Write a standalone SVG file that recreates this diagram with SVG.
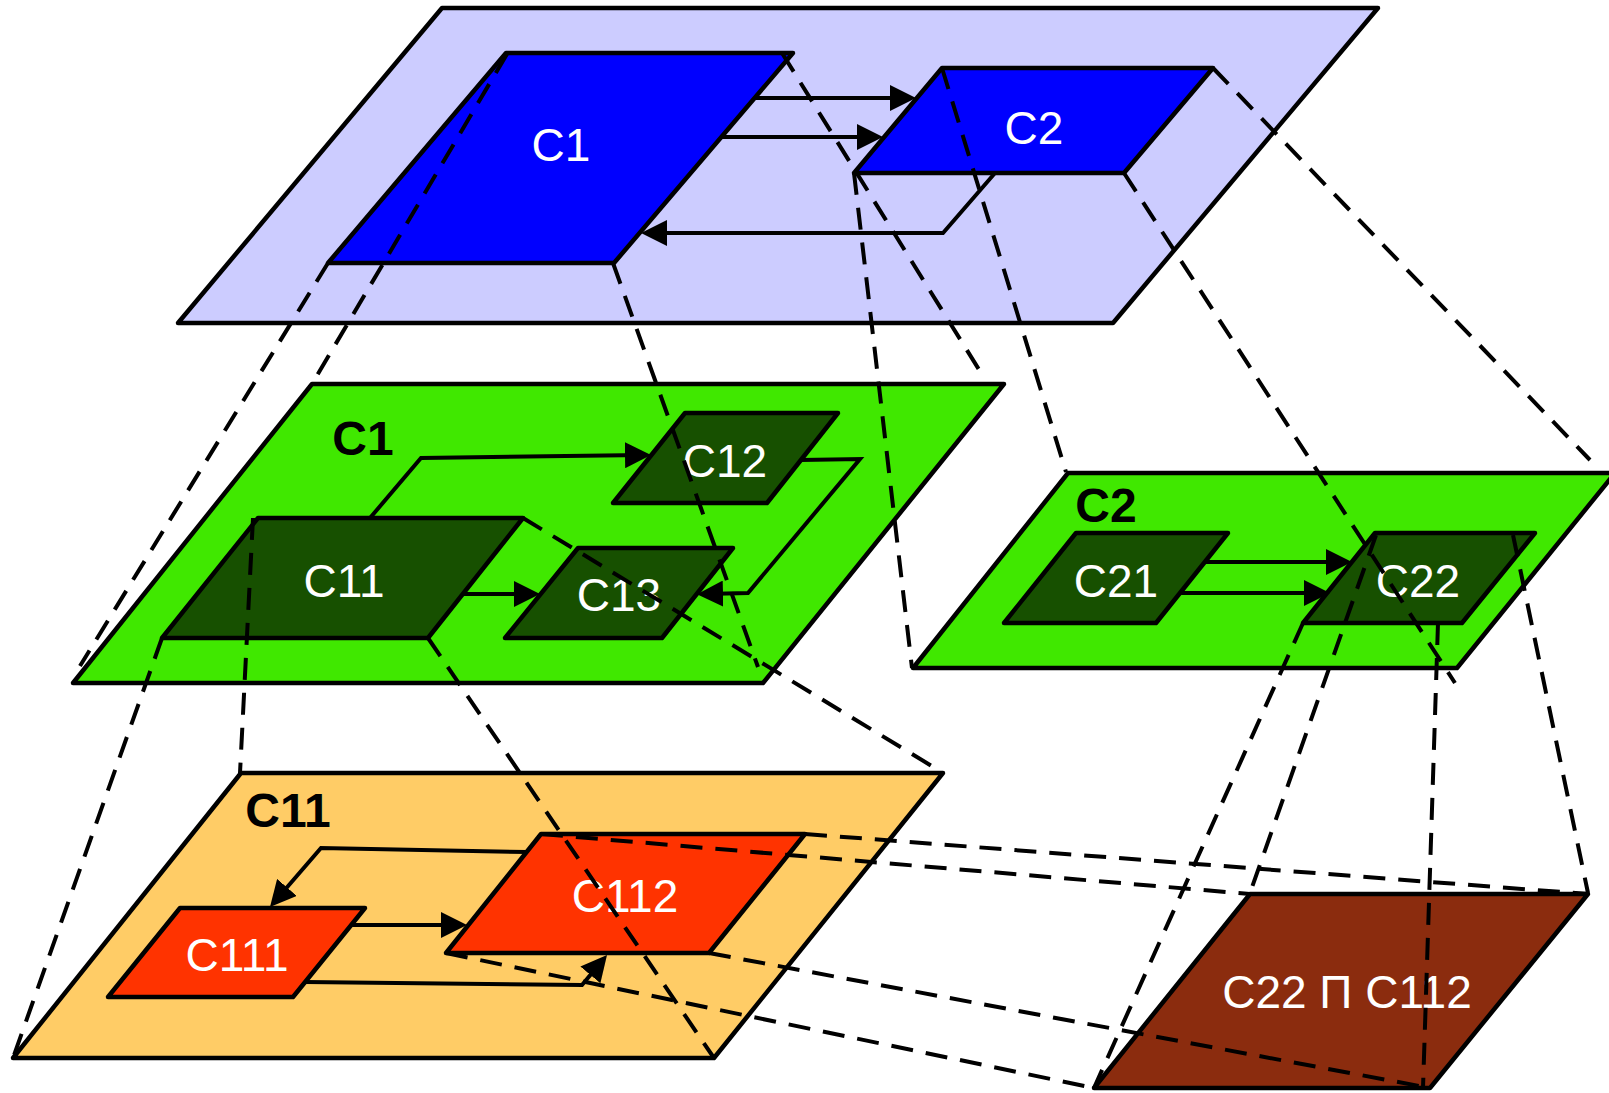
<svg xmlns="http://www.w3.org/2000/svg" width="1609" height="1093" viewBox="0 0 1609 1093">
  <style>
    .shape { stroke: #000; stroke-width: 4.5; stroke-linejoin: round; }
    .lavender { fill: #CCCCFF; }
    .blue { fill: #0000FF; }
    .green { fill: #40E800; }
    .dark { fill: #175000; }
    .sand { fill: #FFCC66; }
    .red { fill: #FF3300; }
    .brown { fill: #8B2C0E; }
    .arrow { fill: none; stroke: #000; stroke-width: 4; stroke-linejoin: miter; marker-end: url(#head); }
    .proj { fill: none; stroke: #000; stroke-width: 4; stroke-dasharray: 22 13; }
    .lbl { font-family: "Liberation Sans", Arial, sans-serif; font-size: 46px; fill: #FFFFFF; text-anchor: middle; }
    .title { font-family: "Liberation Sans", Arial, sans-serif; font-size: 48px; font-weight: bold; fill: #000000; text-anchor: middle; }
  </style>
  <defs>
    <marker id="head" viewBox="0 0 26 26" markerWidth="26" markerHeight="26" refX="18" refY="13" markerUnits="userSpaceOnUse" orient="auto">
      <path d="M0,0 L26,13 L0,26 Z" fill="#000"/>
    </marker>
  </defs>

  <!-- top level: the whole system -->
  <g id="level-top">
    <polygon class="shape lavender" points="442,8 1378,8 1113,323 178,323"/>
  </g>
  <g id="node-C1">
    <polygon class="shape blue" points="506,53 793,53 614,263 328,263"/>
    <text class="lbl" x="561" y="161">C1</text>
  </g>
  <g id="node-C2">
    <polygon class="shape blue" points="942,68 1213,68 1124,173 854,173"/>
    <text class="lbl" x="1034" y="144">C2</text>
  </g>

  <!-- second level: inside C1 -->
  <g id="level-C1">
    <polygon class="shape green" points="312,384 1004,384 763,683 73,683"/>
    <text class="title" x="363" y="455">C1</text>
  </g>
  <g id="node-C11">
    <polygon class="shape dark" points="258,518 523,518 428,638 162,638"/>
    <text class="lbl" x="344" y="597">C11</text>
  </g>
  <g id="node-C12">
    <polygon class="shape dark" points="685,413 838,413 767,503 613,503"/>
    <text class="lbl" x="725" y="477">C12</text>
  </g>
  <g id="node-C13">
    <polygon class="shape dark" points="578,548 733,548 662,638 505,638"/>
    <text class="lbl" x="619" y="611">C13</text>
  </g>

  <!-- second level: inside C2 -->
  <g id="level-C2">
    <polygon class="shape green" points="1068,473 1615,473 1457,668 913,668"/>
    <text class="title" x="1106" y="522">C2</text>
  </g>
  <g id="node-C21">
    <polygon class="shape dark" points="1076,533 1228,533 1156,623 1004,623"/>
    <text class="lbl" x="1116" y="597">C21</text>
  </g>
  <g id="node-C22">
    <polygon class="shape dark" points="1375,533 1535,533 1462,623 1303,623"/>
    <text class="lbl" x="1418" y="597">C22</text>
  </g>

  <!-- third level: inside C11 -->
  <g id="level-C11">
    <polygon class="shape sand" points="241,773 943,773 714,1058 13,1058"/>
    <text class="title" x="288" y="827">C11</text>
  </g>
  <g id="node-C111">
    <polygon class="shape red" points="180,908 365,908 293,997 108,997"/>
    <text class="lbl" x="237" y="971">C111</text>
  </g>
  <g id="node-C112">
    <polygon class="shape red" points="541,834 805,834 709,953 446,953"/>
    <text class="lbl" x="625" y="912">C112</text>
  </g>

  <!-- intersection of C22 and C112 -->
  <g id="node-C22-C112">
    <polygon class="shape brown" points="1250,894 1588,894 1430,1088 1094,1088"/>
    <text class="lbl" x="1347" y="1008">C22 П C112</text>
  </g>

  <g id="connectors">
    <!-- flows between components -->
    <path class="arrow" d="M754,98 H908"/>
    <path class="arrow" d="M721,137 H875"/>
    <path class="arrow" d="M995,173 L943,233 H649"/>
    <path class="arrow" d="M370,518 L421,458 L643,455"/>
    <path class="arrow" d="M463,594 H532"/>
    <path class="arrow" d="M801,460 L860,459 L748,593 L705,594"/>
    <path class="arrow" d="M1205,562 H1344"/>
    <path class="arrow" d="M1180,593 H1322"/>
    <path class="arrow" d="M527,852 L321,848 L275.2,901"/>
    <path class="arrow" d="M351,925 H459"/>
    <path class="arrow" d="M305,982 L582,985 L601.9,961.1"/>

    <!-- projections: C1 onto its own level -->
    <path class="proj" d="M507,54 L312,384"/>
    <path class="proj" d="M782,53 L983,376"/>
    <path class="proj" d="M613,263 L758,667"/>
    <path class="proj" d="M328,263 L80,666"/>
    <!-- projections: C2 onto its own level -->
    <path class="proj" d="M942,68 L1066,472"/>
    <path class="proj" d="M1213,68 L1590,460"/>
    <path class="proj" d="M1124,173 L1455,683"/>
    <path class="proj" d="M854,173 L912,668"/>
    <!-- projections: C11 onto its own level -->
    <path class="proj" d="M253,518 L240,773"/>
    <path class="proj" d="M523,518 L940,771"/>
    <path class="proj" d="M428,638 L714,1058"/>
    <path class="proj" d="M162,638 L13,1058"/>
    <!-- projections: C22 onto the intersection -->
    <path class="proj" d="M1376,535 L1250,893"/>
    <path class="proj" d="M1513,535 L1588,893"/>
    <path class="proj" d="M1438,623 L1423,1088"/>
    <path class="proj" d="M1303,623 L1094,1088"/>
    <!-- projections: C112 onto the intersection -->
    <path class="proj" d="M541,834 L1250,894"/>
    <path class="proj" d="M805,834 L1588,894"/>
    <path class="proj" d="M709,953 L1430,1088"/>
    <path class="proj" d="M446,953 L1094,1088"/>
  </g>
</svg>
